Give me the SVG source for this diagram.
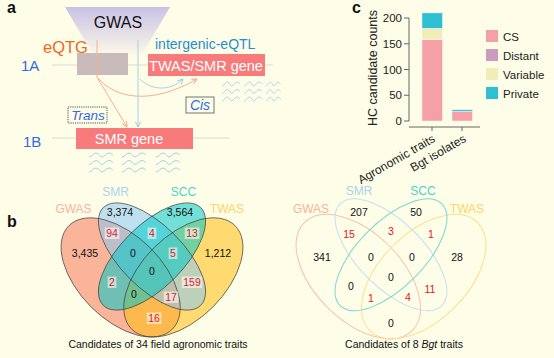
<svg xmlns="http://www.w3.org/2000/svg" width="554" height="358" viewBox="0 0 554 358">
<style>
text{font-family:"Liberation Sans",Arial,sans-serif}
.pl{font-weight:bold;font-size:16px;fill:#111}
.blue{fill:#2f6ae8}
.wave{fill:none;stroke:#a6d0ea;stroke-width:1}
.gbox{fill:#f77b7b}
.gt{fill:#fff;font-size:14.5px}
.tk{font-size:11.5px;fill:#222;text-anchor:end}
.ax{stroke:#666;stroke-width:1;fill:none}
.lg{font-size:11.5px;fill:#222}
.n{font-size:10.5px;text-anchor:middle;fill:#111}
.r{fill:#e8141e}
.hb{fill:#fff;fill-opacity:0.55}
.vl{stroke:#3a3a3a;stroke-width:0.8;stroke-opacity:0.85;fill:none}
.vf{fill-opacity:0.55;stroke:none}
.sl{font-size:12px;text-anchor:middle}
.cap{font-size:10.5px;text-anchor:middle;fill:#111}
</style>
<defs>
<linearGradient id="gw" x1="0" y1="0" x2="0" y2="1">
<stop offset="0" stop-color="#c9c1e6"/>
<stop offset="1" stop-color="#fefde8"/>
</linearGradient>
<marker id="ao" viewBox="0 0 8 8" refX="7" refY="4" markerWidth="7" markerHeight="7" orient="auto" markerUnits="userSpaceOnUse">
<path d="M1,1 L7,4 L1,7" fill="none" stroke="#f5a37e" stroke-width="1"/>
</marker>
<marker id="ab" viewBox="0 0 8 8" refX="7" refY="4" markerWidth="7" markerHeight="7" orient="auto" markerUnits="userSpaceOnUse">
<path d="M1,1 L7,4 L1,7" fill="none" stroke="#96c8e4" stroke-width="1"/>
</marker>
<g id="wv">
<path class="wave" d="M0,4 C3,4 4,0 7,0 S11,4 13,4 S17,0 20,0 S23,2 24,2"/>
<path class="wave" d="M0,11.5 C3,11.5 4,7.5 7,7.5 S11,11.5 13,11.5 S17,7.5 20,7.5 S23,9.5 24,9.5"/>
<path class="wave" d="M0,19 C3,19 4,15 7,15 S11,19 13,19 S17,15 20,15 S23,17 24,17"/>
</g>
</defs>
<rect width="554" height="358" fill="#fefde8"/>

<!-- Panel a -->
<g id="panel-a">
<text class="pl" x="7" y="13">a</text>
<g id="gwas-funnel">
<polygon points="65,7 170,7 140,58 95,58" fill="url(#gw)"/>
<text x="118" y="28" font-size="16" text-anchor="middle" fill="#111">GWAS</text>
</g>
<line x1="52" y1="65" x2="273" y2="65" stroke="#dcdad0" stroke-width="1"/>
<line x1="52" y1="138" x2="230" y2="138" stroke="#dcdad0" stroke-width="1"/>
<text x="21" y="71" font-size="15" class="blue">1A</text>
<text x="23" y="147" font-size="15" class="blue">1B</text>
<text x="43" y="53" font-size="16.5" fill="#f26522">eQTG</text>
<text x="155" y="49" font-size="14" fill="#1e8fd0">intergenic-eQTL</text>
<g id="eqtg-box"><rect x="77" y="53" width="51" height="22" fill="#c9bbbb"/></g>
<g id="twas-smr-gene"><rect class="gbox" x="148" y="54" width="117" height="22"/><text class="gt" x="206" y="71" text-anchor="middle">TWAS/SMR gene</text></g>
<g id="smr-gene"><rect class="gbox" x="76" y="128" width="117" height="21"/><text class="gt" x="129" y="143.5" text-anchor="middle" font-size="15">SMR gene</text></g>
<g id="connectors">
<line x1="97" y1="40" x2="97" y2="78" stroke="#f7b08e" stroke-width="1"/>
<line x1="97.5" y1="78" x2="127" y2="127" stroke="#f7b08e" stroke-width="1" marker-end="url(#ao)"/>
<path d="M98,78 C115,98 150,106 197,79" fill="none" stroke="#f7b08e" stroke-width="1" marker-end="url(#ao)"/>
<line x1="138" y1="40" x2="138" y2="127" stroke="#a6d0ea" stroke-width="1" marker-end="url(#ab)"/>
<path d="M140,79 C150,90 170,92 183,79" fill="none" stroke="#a6d0ea" stroke-width="1" marker-end="url(#ab)"/>
</g>
<g id="trans"><rect x="68" y="107" width="39" height="16" fill="none" stroke="#555" stroke-width="1" stroke-dasharray="1.2 1"/><text x="88" y="119.5" font-size="13.5" font-style="italic" text-anchor="middle" class="blue">Trans</text></g>
<g id="cis"><rect x="186" y="97" width="28" height="16" fill="none" stroke="#777" stroke-width="1"/><text x="200" y="109.5" font-size="14" font-style="italic" text-anchor="middle" class="blue">Cis</text></g>
<g id="waves">
<use href="#wv" x="89" y="153"/>
<use href="#wv" x="122" y="153"/>
<use href="#wv" x="156" y="153"/>
<use href="#wv" transform="translate(222,82) scale(0.75,1)"/>
<use href="#wv" transform="translate(244,82) scale(0.75,1)"/>
<use href="#wv" transform="translate(266,82) scale(0.6,1)"/>
</g>
</g>

<!-- Panel c -->
<g id="panel-c">
<text class="pl" x="352" y="13">c</text>
<text transform="translate(377,68) rotate(-90)" font-size="12.5" text-anchor="middle" fill="#222">HC candidate counts</text>
<g id="y-axis">
<path class="ax" d="M409,18 V121 M404,18 H409 M404,43.75 H409 M404,69.5 H409 M404,95.25 H409 M404,121 H409"/>
<text class="tk" x="402" y="22">200</text>
<text class="tk" x="402" y="47.75">150</text>
<text class="tk" x="402" y="73.5">100</text>
<text class="tk" x="402" y="99.25">50</text>
<text class="tk" x="402" y="125">0</text>
</g>
<g id="x-axis">
<path class="ax" d="M409,127 H480 M432,127 V131 M462,127 V131"/>
<text transform="translate(436,141) rotate(-30)" font-size="12" text-anchor="end" fill="#222">Agronomic traits</text>
<text transform="translate(467,141) rotate(-30)" font-size="12" text-anchor="end" fill="#222">Bgt isolates</text>
</g>
<g id="bars" stroke="#fff" stroke-width="0.6" stroke-opacity="0.7">
<rect x="422" y="39.6" width="20.5" height="81.4" fill="#f4a0a6"/>
<rect x="422" y="28.3" width="20.5" height="11.3" fill="#f2ecb8"/>
<rect x="422" y="12.9" width="20.5" height="15.4" fill="#2ec0d2"/>
<rect x="452" y="111.2" width="20.5" height="9.8" fill="#f4a0a6"/>
<rect x="452" y="109.7" width="20.5" height="1.5" fill="#2ec0d2"/>
</g>
<g id="legend">
<rect x="486" y="30" width="12" height="12" fill="#f4a0a6"/><text class="lg" x="503" y="40.5">CS</text>
<rect x="486" y="49" width="12" height="12" fill="#cc9cbe"/><text class="lg" x="503" y="59.5">Distant</text>
<rect x="486" y="68" width="12" height="12" fill="#f2ecb8"/><text class="lg" x="503" y="79">Variable</text>
<rect x="486" y="87" width="12" height="12" fill="#2ec0d2"/><text class="lg" x="503" y="97.5">Private</text>
</g>
</g>

<!-- Panel b -->
<g id="panel-b">
<text class="pl" x="7" y="227">b</text>
<g id="venn-left">
<ellipse class="vf" fill="#f4785a" cx="120.65" cy="277.4" rx="73.15" ry="41.8" transform="rotate(45 120.65 277.4)"/>
<ellipse class="vf" fill="#ffbe0e" cx="183.35" cy="277.4" rx="73.15" ry="41.8" transform="rotate(-45 183.35 277.4)"/>
<ellipse class="vf" fill="#8ac9f3" cx="152" cy="256.5" rx="69" ry="31.35" transform="rotate(45 152 256.5)"/>
<ellipse class="vf" fill="#00c8c8" cx="152" cy="256.5" rx="69" ry="31.35" transform="rotate(-45 152 256.5)"/>
<ellipse class="vl" cx="120.65" cy="277.4" rx="73.15" ry="41.8" transform="rotate(45 120.65 277.4)"/>
<ellipse class="vl" cx="183.35" cy="277.4" rx="73.15" ry="41.8" transform="rotate(-45 183.35 277.4)"/>
<ellipse class="vl" cx="152" cy="256.5" rx="69" ry="31.35" transform="rotate(45 152 256.5)"/>
<ellipse class="vl" cx="152" cy="256.5" rx="69" ry="31.35" transform="rotate(-45 152 256.5)"/>
<text class="sl" x="73.5" y="213" fill="#f7b59c">GWAS</text>
<text class="sl" x="115.5" y="196" fill="#a8d4ec">SMR</text>
<text class="sl" x="183.5" y="196" fill="#48d6cc">SCC</text>
<text class="sl" x="227" y="213" fill="#ffd468">TWAS</text>
<rect class="hb" x="104.7" y="227.5" width="14.7" height="11.5"/>
<rect class="hb" x="147.6" y="227.5" width="8.8" height="11.5"/>
<rect class="hb" x="184.7" y="227.5" width="14.7" height="11.5"/>
<rect class="hb" x="168.6" y="247.5" width="8.8" height="11.5"/>
<rect class="hb" x="107.6" y="276.5" width="8.8" height="11.5"/>
<rect class="hb" x="181.75" y="276.5" width="20.5" height="11.5"/>
<rect class="hb" x="163.7" y="291.5" width="14.7" height="11.5"/>
<rect class="hb" x="146.7" y="312.5" width="14.7" height="11.5"/>
<text class="n" x="120" y="216">3,374</text>
<text class="n" x="180" y="216">3,564</text>
<text class="n r" x="112" y="237">94</text>
<text class="n r" x="152" y="237">4</text>
<text class="n r" x="192" y="237">13</text>
<text class="n" x="85" y="257">3,435</text>
<text class="n" x="133" y="256.5">0</text>
<text class="n r" x="173" y="257">5</text>
<text class="n" x="218" y="257">1,212</text>
<text class="n" x="152" y="275">0</text>
<text class="n r" x="112" y="286">2</text>
<text class="n r" x="192" y="286">159</text>
<text class="n" x="134" y="298">0</text>
<text class="n r" x="171" y="301">17</text>
<text class="n r" x="154" y="322">16</text>
<text class="cap" x="158" y="348">Candidates of 34 field agronomic traits</text>
</g>
<g id="venn-right" fill="none" stroke-width="1">
<ellipse stroke="#f8c2ac" cx="358.3" cy="276.6" rx="76.3" ry="43.6" transform="rotate(45 358.3 276.6)"/>
<ellipse stroke="#fde08c" cx="423.7" cy="276.6" rx="76.3" ry="43.6" transform="rotate(-45 423.7 276.6)"/>
<ellipse stroke="#c4e0ee" cx="391" cy="254.8" rx="71.9" ry="32.7" transform="rotate(45 391 254.8)"/>
<ellipse stroke="#7ad8d0" cx="391" cy="254.8" rx="71.9" ry="32.7" transform="rotate(-45 391 254.8)"/>
</g>
<g id="venn-right-labels">
<text class="sl" x="311" y="213" fill="#f7b59c">GWAS</text>
<text class="sl" x="359" y="195" fill="#a8d4ec">SMR</text>
<text class="sl" x="423" y="195" fill="#48d6cc">SCC</text>
<text class="sl" x="467" y="213" fill="#ffd468">TWAS</text>
<text class="n" x="359" y="216">207</text>
<text class="n" x="416" y="216">50</text>
<text class="n r" x="349" y="238">15</text>
<text class="n r" x="391" y="235">3</text>
<text class="n r" x="431" y="238">1</text>
<text class="n" x="322" y="261">341</text>
<text class="n" x="371" y="261">0</text>
<text class="n" x="412" y="261">0</text>
<text class="n" x="457" y="261">28</text>
<text class="n" x="391" y="281">0</text>
<text class="n" x="351" y="290">0</text>
<text class="n r" x="371" y="302">1</text>
<text class="n r" x="408" y="301">4</text>
<text class="n r" x="430" y="293">11</text>
<text class="n" x="391" y="327">0</text>
<text class="cap" x="404" y="348">Candidates of 8 <tspan font-style="italic">Bgt</tspan> traits</text>
</g>
</g>
</svg>
